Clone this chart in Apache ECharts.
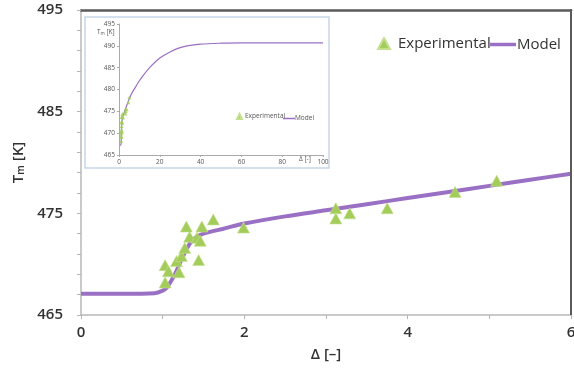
<!DOCTYPE html>
<html>
<head>
<meta charset="utf-8">
<script src="https://cdn.jsdelivr.net/npm/echarts@6/dist/echarts.min.js"></script>
<style>html,body{margin:0;padding:0;background:#fff}#c{width:574px;height:370px}</style>
</head>
<body>
<div id="c"></div>
<script>
// Experimental points (Δ, Tm)
const expX = [1.03, 1.03, 1.07, 1.20, 1.17, 1.23, 1.27, 1.44, 1.33, 1.42, 1.46, 1.29, 1.48, 1.62, 1.99, 3.12, 3.12, 3.29, 3.75, 4.58, 5.09];
const expY = [468.2, 469.9, 469.3, 469.2, 470.3, 470.8, 471.6, 470.4, 472.7, 472.6, 472.3, 473.7, 473.7, 474.4, 473.6, 475.5, 474.5, 475.0, 475.5, 477.1, 478.2];
// Model curve (main, 0..6)
const modelX = [0, 0.5, 0.9, 1.0, 1.05, 1.1, 1.15, 1.2, 1.25, 1.3, 1.35, 1.4, 1.5, 1.75, 2.0, 2.5, 3.0, 3.5, 4.0, 4.5, 5.0, 5.5, 6.0];
const modelY = [467.1, 467.1, 467.15, 467.4, 467.7, 468.3, 469.0, 469.9, 470.8, 471.6, 472.2, 472.6, 473.0, 473.5, 474.0, 474.7, 475.3, 475.9, 476.5, 477.1, 477.7, 478.3, 478.9];
// Model curve (inset, 0..100)
const insetModelX = [0, 1, 1.2, 1.5, 3, 6, 8, 10, 12, 15, 20, 25, 30, 35, 40, 50, 60, 80, 100];
const insetModelY = [467.1, 467.4, 469.9, 473.0, 475.3, 478.9, 480.5, 482.0, 483.3, 485.0, 487.2, 488.6, 489.6, 490.1, 490.4, 490.6, 490.7, 490.7, 490.7];
// Ticks
const mainXTicks = {min: 0, max: 6, interval: 2};
const mainYTicks = {min: 465, max: 495, interval: 10};
const insetXTicks = {min: 0, max: 100, interval: 20};
const insetYTicks = {min: 465, max: 495, interval: 5};

const zip = (a, b) => a.map((v, i) => [v, b[i]]);
const GREEN = '#a3cc5b', PURPLE = '#9a70c4';
const FONT = '"Open Sans", "DejaVu Sans", sans-serif';

const chart = echarts.init(document.getElementById('c'), null, {renderer: 'canvas'});
chart.setOption({
  animation: false,
  backgroundColor: '#fff',
  grid: [
    {left: 81, top: 10, width: 490, height: 305, outerBoundsMode: 'none', containLabel: false},
    {left: 119, top: 24, width: 204, height: 131, outerBoundsMode: 'none', containLabel: false}
  ],
  graphic: [
    {type: 'rect', z: -10, shape: {x: 85, y: 17, width: 244, height: 151},
     style: {fill: 'none', stroke: '#c6d6e8', lineWidth: 1.5}},
    {type: 'line', z: 100, shape: {x1: 571, y1: 9, x2: 571, y2: 315},
     style: {stroke: '#5a5a5a', lineWidth: 2}},
    {type: 'text', left: 97, top: 29, z: 10,
     style: {text: '{a|T}{s|m}{a| [K]}', rich: {a: {fontSize: 6.5, fill: '#555', fontFamily: FONT}, s: {fontSize: 4.5, fill: '#555', verticalAlign: 'bottom', fontFamily: FONT}}}},
    {type: 'text', left: 299, top: 156, z: 10,
     style: {text: 'Δ [-]', fontSize: 6.5, fill: '#555', fontFamily: FONT}}
  ],
  legend: [
    {data: [{name: 'Experimental', icon: 'triangle'}], left: 372, top: 31, itemWidth: 12, itemHeight: 11,
     textStyle: {fontSize: 15, color: '#333', fontFamily: FONT, padding: [0, 0, 0, 3]}},
    {data: [{name: 'Model', icon: 'rect'}], left: 485, top: 32, itemWidth: 26, itemHeight: 3.5,
     itemStyle: {color: PURPLE},
     textStyle: {fontSize: 15, color: '#333', fontFamily: FONT, padding: [0, 0, 0, -4]}},
    {data: [{name: 'Experimental', icon: 'triangle'}], left: 231, top: 108, itemWidth: 5, itemHeight: 5,
     textStyle: {fontSize: 6.5, color: '#555', fontFamily: FONT, padding: [0, 0, 0, -2]}},
    {data: [{name: 'Model', icon: 'rect'}], left: 278, top: 110, itemWidth: 12, itemHeight: 1.5,
     itemStyle: {color: PURPLE},
     textStyle: {fontSize: 6.5, color: '#555', fontFamily: FONT, padding: [0, 0, 0, -5]}}
  ],
  xAxis: [
    {type: 'value', gridIndex: 0, ...mainXTicks,
     name: 'Δ [–]', nameLocation: 'middle', nameGap: 32,
     nameTextStyle: {fontSize: 15, fontWeight: 600, color: '#333', fontFamily: FONT},
     axisLine: {onZero: false, lineStyle: {color: '#b8b8b8', width: 1.5}},
     axisTick: {show: true, length: 4, lineStyle: {color: '#b5b5b5'}},
     minorTick: {show: true, splitNumber: 2, length: 4, lineStyle: {color: '#b5b5b5'}},
     axisLabel: {fontSize: 15, fontWeight: 600, color: '#333', margin: 10, fontFamily: FONT},
     splitLine: {show: false}},
    {type: 'value', gridIndex: 0, position: 'top', ...mainXTicks,
     axisLine: {show: true, onZero: false, lineStyle: {color: '#5a5a5a', width: 2.5}},
     axisTick: {show: false}, axisLabel: {show: false}, splitLine: {show: false}},
    {type: 'value', gridIndex: 1, ...insetXTicks, z: 5,
     axisLine: {onZero: false, lineStyle: {color: '#aaa', width: 1}},
     axisTick: {show: true, length: 2, lineStyle: {color: '#aaa'}},
     axisLabel: {fontSize: 6.5, color: '#555', margin: 4, fontFamily: FONT},
     splitLine: {show: false}}
  ],
  yAxis: [
    {type: 'value', gridIndex: 0, position: 'left', ...mainYTicks,
     name: '{a|T}{s|m}{a| [K]}', nameLocation: 'middle', nameGap: 52, nameRotate: 90,
     nameTextStyle: {rich: {a: {fontSize: 15, fontWeight: 600, color: '#333', fontFamily: FONT}, s: {fontSize: 10, fontWeight: 600, color: '#333', fontFamily: FONT, verticalAlign: 'bottom', padding: [6, 0, 0, 0]}}},
     axisLine: {show: true, onZero: false, lineStyle: {color: '#b8b8b8', width: 1.5}},
     axisTick: {show: true, length: 4, lineStyle: {color: '#b5b5b5'}},
     minorTick: {show: true, splitNumber: 5, length: 4, lineStyle: {color: '#b5b5b5'}},
     axisLabel: {fontSize: 15, fontWeight: 600, color: '#333', margin: 18, fontFamily: FONT},
     splitLine: {show: false}},
    {type: 'value', gridIndex: 1, position: 'left', ...insetYTicks, z: 5,
     axisLine: {show: true, onZero: false, lineStyle: {color: '#aaa', width: 1}},
     axisTick: {show: true, length: 2, lineStyle: {color: '#aaa'}},
     axisLabel: {fontSize: 6.5, color: '#555', margin: 4, fontFamily: FONT},
     splitLine: {show: false}}
  ],
  series: [
    {name: 'Model', type: 'line', xAxisIndex: 0, yAxisIndex: 0, data: zip(modelX, modelY),
     symbol: 'none', smooth: 0.3, lineStyle: {color: PURPLE, width: 4}, itemStyle: {color: PURPLE}, z: 2},
    {name: 'Experimental', type: 'scatter', xAxisIndex: 0, yAxisIndex: 0, data: zip(expX, expY),
     symbol: 'triangle', symbolSize: [12, 11],
     itemStyle: {color: GREEN, borderColor: '#c4e08f', borderWidth: 0.6, opacity: 1}, z: 3},
    {name: 'Model', type: 'line', xAxisIndex: 2, yAxisIndex: 1, data: zip(insetModelX, insetModelY),
     symbol: 'none', smooth: 0.3, lineStyle: {color: PURPLE, width: 1.2}, itemStyle: {color: PURPLE}, z: 2},
    {name: 'Experimental', type: 'scatter', xAxisIndex: 2, yAxisIndex: 1, data: zip(expX, expY),
     symbol: 'triangle', symbolSize: 4, itemStyle: {color: GREEN}, z: 3}
  ]
});
</script>
</body>
</html>
